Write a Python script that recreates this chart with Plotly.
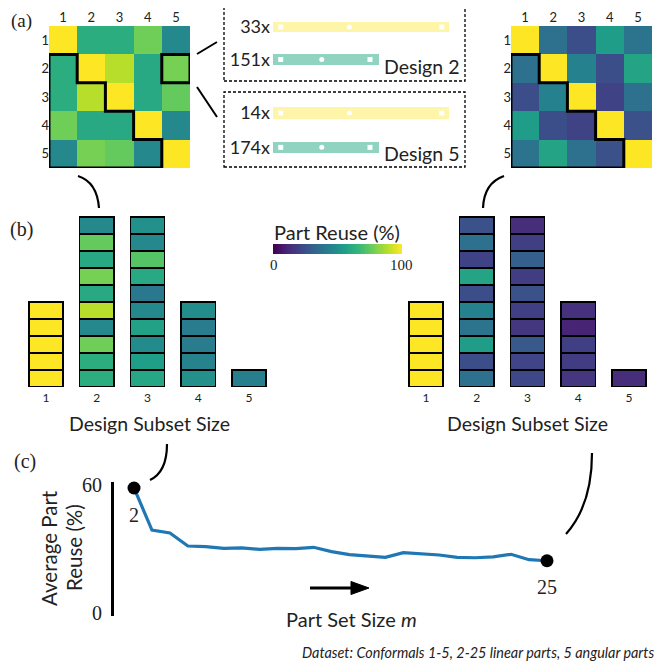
import plotly.graph_objects as go

W = H = 668
OFF = 8  # page body margin compensation (screen px -> figure px)
SANS = "Lato, 'Noto Sans', sans-serif"
SERIF = "'Liberation Serif', 'DejaVu Serif', serif"

# ---------------- data ----------------
designs = [1, 2, 3, 4, 5]
design_labels = ["1", "2", "3", "4", "5"]

# pairwise part reuse (%) between designs, left (m=2) and right (m=25)
reuse_matrix_left = [
    [100, 62, 62, 78, 47],
    [62, 100, 89, 60, 79],
    [62, 89, 100, 60, 76],
    [78, 60, 60, 100, 47],
    [47, 79, 76, 47, 100],
]
reuse_matrix_right = [
    [100, 37, 24, 55, 38],
    [37, 100, 44, 24, 58],
    [24, 44, 100, 20, 37],
    [55, 24, 20, 100, 25],
    [38, 58, 37, 25, 100],
]

subset_sizes = [1, 2, 3, 4, 5]
# reuse of each design subset, bottom to top, per subset size
left_size1 = [100, 100, 100, 100, 100]
left_size2 = [62, 62, 78, 47, 89, 60, 79, 60, 76, 47]
left_size3 = [59, 56, 48, 57, 47, 40, 60, 73, 47, 50]
left_size4 = [50, 45, 42, 42, 49]
left_size5 = [43]
right_size1 = [100, 100, 100, 100, 100]
right_size2 = [37, 24, 55, 38, 44, 24, 58, 20, 37, 25]
right_size3 = [22, 21, 28, 16, 19, 25, 18, 30, 19, 13]
right_size4 = [16, 18, 19, 10, 14]
right_size5 = [13]

# part sets of designs 2 and 5 (counts and relative part lengths)
part_counts_design2 = ["33x", "151x"]
part_counts_design5 = ["14x", "174x"]
part_lengths = [1.0, 0.6]
part_colors = ["rgba(253,231,37,0.4)", "rgba(34,168,132,0.5)"]
joint_pos_long = [0.044, 0.434, 0.959]
joint_pos_short = [0.044, 0.277, 0.551]
joint_symbols = ["square", "circle", "square"]

# average part reuse vs part set size m
part_set_size = list(range(2, 26))
avg_part_reuse = [58.6, 38.9, 37.5, 31.4, 31.1, 30.3, 30.5, 29.8, 30.3, 30.2, 30.8, 28.8,
                  27.4, 26.9, 26.1, 28.3, 27.7, 27.2, 26.1, 25.9, 26.3, 27.5, 25.0, 24.5]

cbar_values = list(range(0, 101))

# ---------------- helpers ----------------
def fx(x):
    return (x - OFF) / W

def fy(y):
    return 1 - (y - OFF) / H

def dx(a, b):
    return [fx(a), fx(b)]

def dy(top, bottom):
    return [fy(bottom), fy(top)]

def P(x, y):
    return f"{fx(x):.5f},{fy(y):.5f}"

fig = go.Figure()

# heatmaps
for mat, ax in [(reuse_matrix_left, ""), (reuse_matrix_right, "2")]:
    fig.add_trace(go.Heatmap(z=mat, x=designs, y=designs, colorscale="Viridis",
                             zmin=0, zmax=100, showscale=False,
                             xaxis="x" + ax, yaxis="y" + ax))

# stacked bars
left_stacks = [left_size1, left_size2, left_size3, left_size4, left_size5]
right_stacks = [right_size1, right_size2, right_size3, right_size4, right_size5]
for stacks, ax in [(left_stacks, "3"), (right_stacks, "4")]:
    for k in range(10):
        xs = [s for s, v in zip(subset_sizes, stacks) if len(v) > k]
        cs = [v[k] for v in stacks if len(v) > k]
        fig.add_trace(go.Bar(x=xs, y=[1] * len(xs), width=0.67,
                             marker=dict(color=cs, colorscale="Viridis", cmin=0, cmax=100,
                                         line=dict(color="black", width=1.6)),
                             xaxis="x" + ax, yaxis="y" + ax, showlegend=False))

# colorbar strip
fig.add_trace(go.Heatmap(z=[cbar_values], x=cbar_values, y=[0], colorscale="Viridis",
                         zmin=0, zmax=100, showscale=False, xaxis="x5", yaxis="y5"))

# part illustrations
for ax in ["6", "7"]:
    fig.add_trace(go.Bar(x=part_lengths, y=[0, 1], orientation="h", width=0.33,
                         marker=dict(color=part_colors, line=dict(width=0)),
                         xaxis="x" + ax, yaxis="y" + ax, showlegend=False))
    for row, jp in enumerate([joint_pos_long, joint_pos_short]):
        fig.add_trace(go.Scatter(x=jp, y=[row] * 3, mode="markers",
                                 marker=dict(symbol=joint_symbols, size=5, color="white"),
                                 xaxis="x" + ax, yaxis="y" + ax, showlegend=False,
                                 cliponaxis=False))

# line chart
fig.add_trace(go.Scatter(x=part_set_size, y=avg_part_reuse, mode="lines",
                         line=dict(color="#1f77b4", width=3.2),
                         xaxis="x8", yaxis="y8", showlegend=False, cliponaxis=False))
fig.add_trace(go.Scatter(x=[part_set_size[0], part_set_size[-1]],
                         y=[avg_part_reuse[0], avg_part_reuse[-1]], mode="markers",
                         marker=dict(color="black", size=13),
                         xaxis="x8", yaxis="y8", showlegend=False, cliponaxis=False))

hidden = dict(showgrid=False, zeroline=False, showticklabels=False, showline=False, ticks="",
              automargin=False)

layout = dict(
    template="none",
    width=W, height=H, margin=dict(l=0, r=0, t=0, b=0, pad=0, autoexpand=False),
    paper_bgcolor="white", plot_bgcolor="white", barmode="stack", showlegend=False,
    font=dict(family=SANS, color="#222"),
)
for ax, (x0, x1) in [("", (49, 190)), ("2", (511, 652))]:
    layout["xaxis" + ax] = dict(domain=dx(x0, x1), range=[0.5, 5.5], side="top",
                                tickvals=designs, ticktext=design_labels, showgrid=False,
                                zeroline=False, ticks="", showline=False, automargin=False,
                                tickfont=dict(size=13, family=SANS), anchor="y" + ax)
    layout["yaxis" + ax] = dict(domain=dy(26, 168), range=[5.5, 0.5], tickvals=designs,
                                ticktext=design_labels, showgrid=False, zeroline=False,
                                ticks="", showline=False, automargin=False,
                                tickfont=dict(size=13, family=SANS),
                                ticklabelstandoff=-1, anchor="x" + ax)
for ax, (x0, x1) in [("3", (20.5, 274.5)), ("4", (400.5, 654.5))]:
    layout["xaxis" + ax] = dict(domain=dx(x0, x1), range=[0.5, 5.5], tickvals=subset_sizes,
                                showgrid=False, zeroline=False, ticks="", showline=False,
                                automargin=False, ticklabelstandoff=2,
                                tickfont=dict(size=12, family=SANS), anchor="y" + ax)
    layout["yaxis" + ax] = dict(domain=dy(215.5, 387), range=[0, 10.08], anchor="x" + ax,
                                **hidden)
layout["xaxis5"] = dict(domain=dx(273, 402), range=[-0.5, 100.5], tickvals=[0, 100],
                        showgrid=False, zeroline=False, ticks="", showline=False,
                        automargin=False,
                        tickfont=dict(size=15, family=SERIF), anchor="y5")
layout["yaxis5"] = dict(domain=dy(244, 254), range=[-0.5, 0.5], anchor="x5", **hidden)
for ax, (t, b), counts in [("6", (10.75, 75.75), part_counts_design2),
                           ("7", (96, 164.5), part_counts_design5)]:
    layout["xaxis" + ax] = dict(domain=dx(273, 449), range=[0, 1], anchor="y" + ax, **hidden)
    layout["yaxis" + ax] = dict(domain=dy(t, b), range=[1.5, -0.5], tickvals=[0, 1],
                                ticktext=counts, showgrid=False, zeroline=False, ticks="",
                                showline=False, automargin=False,
                                tickfont=dict(size=18, family=SANS),
                                ticklabelstandoff=2, anchor="x" + ax)
layout["xaxis8"] = dict(domain=dx(114, 560), range=[2 - 20 / 17.96, 25 + 13 / 17.96],
                        anchor="y8", **hidden)
layout["yaxis8"] = dict(domain=dy(482, 616), range=[-1.41, 61.41], tickvals=[0, 60],
                        showgrid=False, zeroline=False, ticks="", showline=True,
                        automargin=False,
                        linewidth=3, linecolor="black", tickfont=dict(size=20, family=SERIF),
                        ticklabelstandoff=5, anchor="x8")
fig.update_layout(**layout)

# ---------------- shapes ----------------
shapes = []
stair = ("M 0.5,1.5 L 1.5,1.5 L 1.5,2.5 L 2.5,2.5 L 2.5,3.5 L 3.5,3.5 L 3.5,4.5 "
         "L 4.5,4.5 L 4.5,5.5 L 0.5,5.5 Z")
for ax in ["", "2"]:
    shapes.append(dict(type="path", path=stair, xref="x" + ax, yref="y" + ax,
                       line=dict(color="black", width=3)))
shapes.append(dict(type="rect", x0=4.5, x1=5.5, y0=1.5, y1=2.5, xref="x", yref="y",
                   line=dict(color="black", width=3)))
# connectors to part boxes
shapes.append(dict(type="path", path=f"M {P(197, 54)} L {P(217, 42)}", xref="paper",
                   yref="paper", line=dict(color="black", width=2)))
shapes.append(dict(type="path", path=f"M {P(197, 87)} L {P(217, 117)}", xref="paper",
                   yref="paper", line=dict(color="black", width=2)))
# dashed boxes
for (t, b) in [(5, 81), (92, 167)]:
    shapes.append(dict(type="rect", x0=fx(224), x1=fx(465), y0=fy(b), y1=fy(t),
                       xref="paper", yref="paper",
                       line=dict(color="black", width=1.3, dash="3px,2px")))
# curved connectors
for path in [f"M {P(78, 176)} Q {P(97, 182)} {P(99, 208)}",
             f"M {P(504, 176)} Q {P(484, 183)} {P(483, 208)}",
             f"M {P(167, 444)} Q {P(167, 472)} {P(150, 480)}",
             f"M {P(592, 453)} Q {P(592, 505)} {P(566, 534)}"]:
    shapes.append(dict(type="path", path=path, xref="paper", yref="paper",
                       line=dict(color="black", width=2.2)))
# arrow
shapes.append(dict(type="path", path=f"M {P(310, 588)} L {P(353, 588)}", xref="paper",
                   yref="paper", line=dict(color="black", width=3)))
shapes.append(dict(type="path", path=f"M {P(351, 581.5)} L {P(369, 588)} L {P(351, 594.5)} Z",
                   xref="paper", yref="paper", fillcolor="black",
                   line=dict(color="black", width=1)))
fig.update_layout(shapes=shapes)

# ---------------- annotations ----------------
def ann(text, x, y, size, family=SANS, xanchor="center", yanchor="middle", **kw):
    return dict(text=text, x=fx(x), y=fy(y), xref="paper", yref="paper",
                showarrow=False, xanchor=xanchor, yanchor=yanchor,
                font=dict(size=size, family=family, color="#222"), **kw)

annotations = [
    ann("(a)", 21, 8.5, 19, SERIF, yanchor="top"),
    ann("(b)", 21, 229, 20, SERIF),
    ann("(c)", 25, 461, 20, SERIF),
    ann("Design 2", 461, 67, 19.5, xanchor="right"),
    ann("Design 5", 461, 153, 19.5, xanchor="right"),
    ann("Part Reuse (%)", 337, 232, 20),
    ann("Design Subset Size", 149, 423, 19.5),
    ann("Design Subset Size", 527, 423, 19.5),
    ann("Average Part", 49, 548, 20.5, textangle=-90),
    ann("Reuse (%)", 74, 548, 20.5, textangle=-90),
    ann("Part Set Size <i style='font-family:" + SERIF + "'>m</i>", 351, 619, 20),
    ann("<i>Dataset: Conformals 1-5, 2-25 linear parts, 5 angular parts</i>", 656, 652, 14.4,
        xanchor="right"),
]
annotations.append(dict(text="2", x=part_set_size[0], y=avg_part_reuse[0], xref="x8",
                        yref="y8", showarrow=False, yshift=-27,
                        font=dict(size=20, family=SERIF, color="#222")))
annotations.append(dict(text="25", x=part_set_size[-1], y=avg_part_reuse[-1], xref="x8",
                        yref="y8", showarrow=False, yshift=-26,
                        font=dict(size=20, family=SERIF, color="#222")))
fig.update_layout(annotations=annotations)

fig.write_html("out.html")
